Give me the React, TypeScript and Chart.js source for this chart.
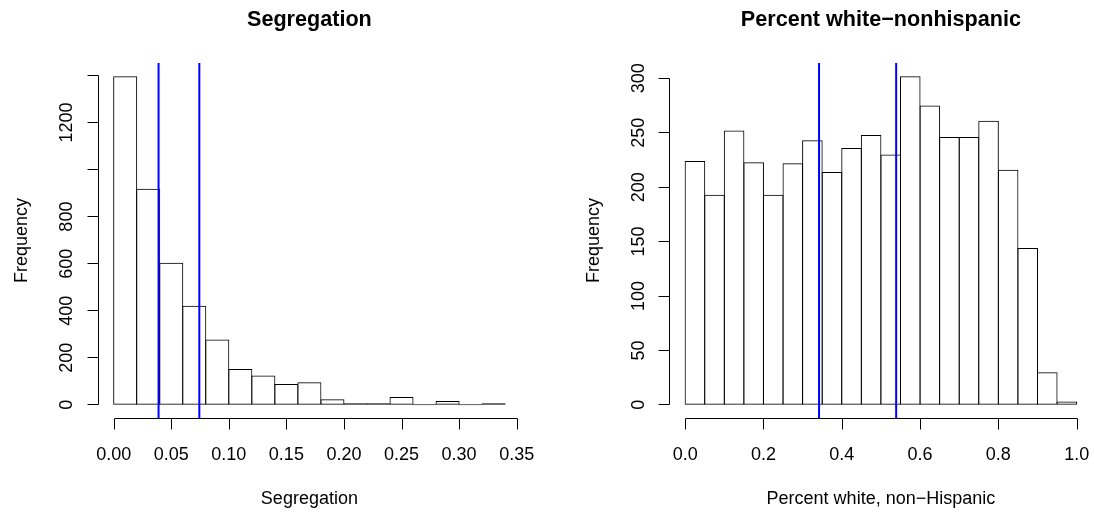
import React, { useEffect, useRef } from "react";
import { Chart, registerables } from "chart.js";

Chart.register(...registerables);

// ---------- Data: Segregation ----------
const segTitle = "Segregation";
const segXTitle = "Segregation";
const segBreaks = [0, 0.02, 0.04, 0.06, 0.08, 0.1, 0.12, 0.14, 0.16, 0.18, 0.2, 0.22, 0.24, 0.26, 0.28, 0.3, 0.32, 0.34];
const segCounts = [1397, 918, 604, 421, 278, 152, 125, 89, 96, 24, 7, 7, 33, 0, 16, 0, 7];
const segLines = [0.039, 0.0744];
const segXTicks = [0, 0.05, 0.1, 0.15, 0.2, 0.25, 0.3, 0.35];
const segXLabels = ["0.00", "0.05", "0.10", "0.15", "0.20", "0.25", "0.30", "0.35"];
const segYTicks = [0, 200, 400, 600, 800, 1000, 1200, 1400];
const segYLabels = ["0", "200", "400", "600", "800", "", "1200", ""];

// ---------- Data: Percent white-nonhispanic ----------
const pwTitle = "Percent white\u2212nonhispanic";
const pwXTitle = "Percent white, non\u2212Hispanic";
const pwBreaks = [0, 0.05, 0.1, 0.15, 0.2, 0.25, 0.3, 0.35, 0.4, 0.45, 0.5, 0.55, 0.6, 0.65, 0.7, 0.75, 0.8, 0.85, 0.9, 0.95, 1.0];
const pwCounts = [224, 193, 252, 223, 193, 222, 243, 214, 236, 248, 230, 302, 275, 246, 246, 261, 216, 144, 30, 3];
const pwLines = [0.342, 0.539];
const pwXTicks = [0, 0.2, 0.4, 0.6, 0.8, 1.0];
const pwXLabels = ["0.0", "0.2", "0.4", "0.6", "0.8", "1.0"];
const pwYTicks = [0, 50, 100, 150, 200, 250, 300];
const pwYLabels = ["0", "50", "100", "150", "200", "250", "300"];

const W = 1094;
const H = 512;

type Panel = {
  title: string;
  xTitle: string;
  yTitle: string;
  breaks: number[];
  counts: number[];
  lines: number[];
  xTicks: number[];
  xLabels: string[];
  yTicks: number[];
  yLabels: string[];
  area: { left: number; right: number; top: number; bottom: number };
};

const panels: Panel[] = [
  {
    title: segTitle,
    xTitle: segXTitle,
    yTitle: "Frequency",
    breaks: segBreaks,
    counts: segCounts,
    lines: segLines,
    xTicks: segXTicks,
    xLabels: segXLabels,
    yTicks: segYTicks,
    yLabels: segYLabels,
    area: { left: 98, right: 520.8, top: 63, bottom: 418 },
  },
  {
    title: pwTitle,
    xTitle: pwXTitle,
    yTitle: "Frequency",
    breaks: pwBreaks,
    counts: pwCounts,
    lines: pwLines,
    xTicks: pwXTicks,
    xLabels: pwXLabels,
    yTicks: pwYTicks,
    yLabels: pwYLabels,
    area: { left: 669.5, right: 1092.3, top: 63, bottom: 418 },
  },
];

const FONT = '"Liberation Sans", Arial, Helvetica, sans-serif';

const rAxesPlugin = {
  id: "rAxes",
  afterDatasetsDraw(chart: any, _args: any, opts: any) {
    const p: Panel = opts.panel;
    const { ctx, chartArea } = chart;
    const xs = chart.scales.x;
    const ys = chart.scales.y;
    ctx.save();
    ctx.strokeStyle = "#000";
    ctx.fillStyle = "#000";
    ctx.lineWidth = 1;
    const tick = 11;

    // x axis
    const ay = Math.floor(chartArea.bottom) + 0.5;
    const xa = xs.getPixelForValue(p.xTicks[0]);
    const xb = xs.getPixelForValue(p.xTicks[p.xTicks.length - 1]);
    ctx.beginPath();
    ctx.moveTo(Math.round(xa) + 0.5, ay);
    ctx.lineTo(Math.round(xb) + 0.5, ay);
    for (const t of p.xTicks) {
      const px = Math.round(xs.getPixelForValue(t)) + 0.5;
      ctx.moveTo(px, ay);
      ctx.lineTo(px, ay + tick);
    }
    ctx.stroke();

    // y axis
    const ax = Math.floor(chartArea.left) + 0.5;
    const ya = ys.getPixelForValue(p.yTicks[0]);
    const yb = ys.getPixelForValue(p.yTicks[p.yTicks.length - 1]);
    ctx.beginPath();
    ctx.moveTo(ax, Math.floor(ya) + 0.5);
    ctx.lineTo(ax, Math.floor(yb) + 0.5);
    for (const t of p.yTicks) {
      const py = Math.floor(ys.getPixelForValue(t)) + 0.5;
      ctx.moveTo(ax, py);
      ctx.lineTo(ax - tick, py);
    }
    ctx.stroke();

    // tick labels
    ctx.font = `18px ${FONT}`;
    ctx.textAlign = "center";
    ctx.textBaseline = "alphabetic";
    p.xTicks.forEach((t, i) => {
      ctx.fillText(p.xLabels[i], xs.getPixelForValue(t), chartArea.bottom + 41.7);
    });
    p.yTicks.forEach((t, i) => {
      if (!p.yLabels[i]) return;
      ctx.save();
      ctx.translate(chartArea.left - 25.8, ys.getPixelForValue(t));
      ctx.rotate(-Math.PI / 2);
      ctx.fillText(p.yLabels[i], 0, 0);
      ctx.restore();
    });

    // axis titles
    const cx = (chartArea.left + chartArea.right) / 2;
    const cy = (chartArea.top + chartArea.bottom) / 2;
    ctx.fillText(p.xTitle, cx, chartArea.bottom + 86.3);
    ctx.save();
    ctx.translate(chartArea.left - 71, cy);
    ctx.rotate(-Math.PI / 2);
    ctx.fillText(p.yTitle, 0, 0);
    ctx.restore();

    // main title
    ctx.font = `bold 21.6px ${FONT}`;
    ctx.fillText(p.title, cx, 25.5);

    // vertical reference lines
    ctx.strokeStyle = "#0000ff";
    ctx.lineWidth = 2;
    for (const v of p.lines) {
      const px = xs.getPixelForValue(v);
      ctx.beginPath();
      ctx.moveTo(px, chartArea.top);
      ctx.lineTo(px, chartArea.bottom);
      ctx.stroke();
    }
    ctx.restore();
  },
};

function buildChart(canvas: HTMLCanvasElement, p: Panel) {
  const b0 = p.breaks[0];
  const b1 = p.breaks[p.breaks.length - 1];
  const xr = b1 - b0;
  const xmin = b0 - 0.04 * xr;
  const xmax = b1 + 0.04 * xr;
  const cmax = Math.max(...p.counts);
  const ymin = -0.04 * cmax;
  const ymax = 1.04 * cmax;
  const points = p.counts.map((c, i) => ({ x: (p.breaks[i] + p.breaks[i + 1]) / 2, y: c }));
  const areaW = p.area.right - p.area.left;
  const binPx = ((p.breaks[1] - p.breaks[0]) / (xmax - xmin)) * areaW;
  const barPct = (binPx + 1) / binPx;

  return new Chart(canvas, {
    type: "bar",
    data: {
      datasets: [
        {
          data: points as any,
          backgroundColor: "rgba(255,255,255,0)",
          borderColor: "#000",
          borderWidth: 1,
          borderSkipped: false,
          barPercentage: barPct,
          categoryPercentage: 1,
          minBarLength: 1,
        } as any,
      ],
    },
    options: {
      responsive: false,
      animation: false,
      events: [],
      layout: {
        padding: {
          left: p.area.left,
          right: W - p.area.right,
          top: p.area.top,
          bottom: H - p.area.bottom,
        },
      },
      plugins: {
        legend: { display: false },
        tooltip: { enabled: false },
        title: { display: false },
        rAxes: { panel: p },
      } as any,
      scales: {
        x: { type: "linear", display: false, min: xmin, max: xmax, offset: false },
        y: { type: "linear", display: false, min: ymin, max: ymax },
      },
    },
    plugins: [rAxesPlugin as any],
  });
}

function Panel({ panel }: { panel: Panel }) {
  const ref = useRef<HTMLCanvasElement | null>(null);
  useEffect(() => {
    if (!ref.current) return;
    const chart = buildChart(ref.current, panel);
    return () => chart.destroy();
  }, [panel]);
  return (
    <canvas
      ref={ref}
      width={W}
      height={H}
      style={{ position: "absolute", left: 0, top: 0, width: W, height: H }}
    />
  );
}

export default function App() {
  return (
    <div style={{ position: "absolute", left: 0, top: 0, width: W, height: H, background: "#fff" }}>
      {panels.map((p, i) => (
        <Panel key={i} panel={p} />
      ))}
    </div>
  );
}
